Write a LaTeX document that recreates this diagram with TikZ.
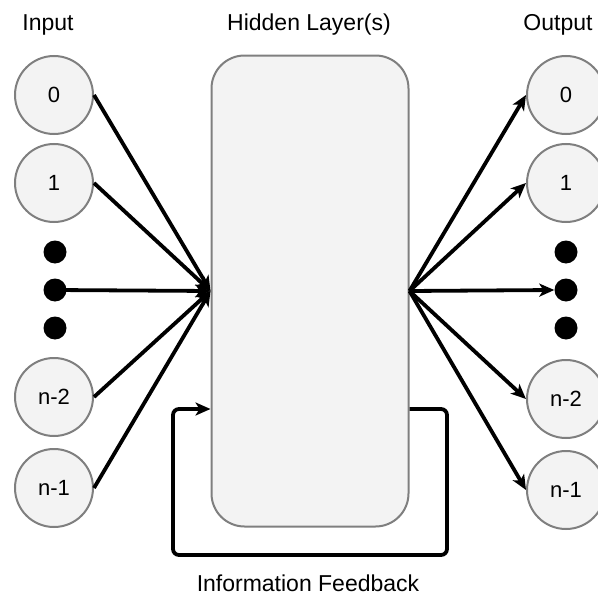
\documentclass[tikz,border=0pt]{standalone}
\usepackage{fontspec}
\setmainfont{Liberation Sans}
\usetikzlibrary{arrows.meta}
\definecolor{nodefill}{HTML}{F3F3F3}
\definecolor{nodeline}{HTML}{7F7F7F}
\tikzset{
  neuron/.style={circle, draw=nodeline, line width=2pt, fill=nodefill,
    minimum size=78pt, inner sep=0pt, font=\fontsize{22}{26}\selectfont},
  blackdot/.style={circle, fill=black, minimum size=23pt, inner sep=0pt},
  hiddenbox/.style={rectangle, rounded corners=33pt, draw=nodeline, line width=2pt,
    fill=nodefill, minimum width=197pt, minimum height=471pt, inner sep=0pt},
  caption/.style={font=\fontsize{23}{27}\selectfont},
  conn/.style={line width=3.8pt, draw=black,
    -{Stealth[length=15pt, width=13pt, inset=4pt]}},
}
\begin{document}
\begin{tikzpicture}[x=1pt, y=-1pt]
  \useasboundingbox (0,0) rectangle (598,597);

  % captions
  \node[caption] (tin) at (48,25) {Input};
  \node[caption] (thid) at (309,25) {Hidden Layer(s)};
  \node[caption] (tout) at (558,25) {Output};
  \node[caption] (tfb) at (308,583) {Information Feedback};

  % hidden layer block
  \node[hiddenbox] (hid) at (310,291) {};

  % input layer
  \node[neuron] (i0) at (54,95) {0};
  \node[neuron] (i1) at (54,183) {1};
  \node[blackdot] (id1) at (55,252) {};
  \node[blackdot] (id2) at (55,290) {};
  \node[blackdot] (id3) at (55,328) {};
  \node[neuron] (i2) at (54,397) {n-2};
  \node[neuron] (i3) at (54,488) {n-1};

  % output layer
  \node[neuron] (o0) at (566,95) {0};
  \node[neuron] (o1) at (566,183) {1};
  \node[blackdot] (od1) at (566,252) {};
  \node[blackdot] (od2) at (566,290) {};
  \node[blackdot] (od3) at (566,328) {};
  \node[neuron] (o2) at (566,399) {n-2};
  \node[neuron] (o3) at (566,490) {n-1};

  % inputs into the hidden layer
  \foreach \n in {i0,i1,i2,i3}
    \draw[conn] (\n.east) -- (hid.west);
  \draw[conn] (id2.center) -- (hid.west);

  % hidden layer to outputs
  \foreach \n in {o0,o1,o2,o3,od2}
    \draw[conn] (hid.east) -- (\n.west);

  % feedback loop
  \coordinate (fbout) at (hid.east |- 0,409);
  \coordinate (fbin) at (hid.west |- 0,409);
  \draw[conn, rounded corners=6pt] (fbout) -| (447,555) -| (173,409) -- (fbin);
\end{tikzpicture}
\end{document}
